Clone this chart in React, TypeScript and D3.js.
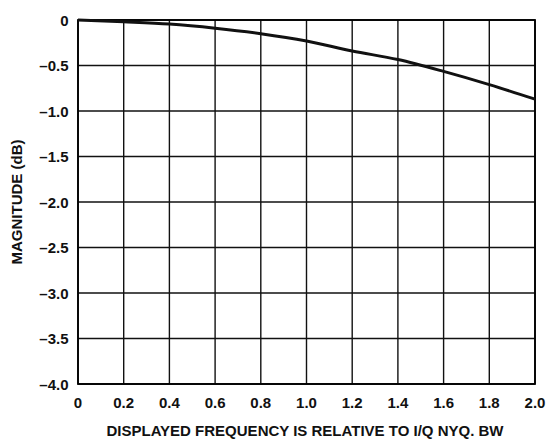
import React from "react";
import * as d3 from "d3";

const freq = [0, 0.2, 0.4, 0.6, 0.8, 1.0, 1.2, 1.4, 1.6, 1.8, 2.0];
const magnitude = [0, -0.02, -0.045, -0.09, -0.15, -0.23, -0.34, -0.435, -0.565, -0.71, -0.87];
const xTicks = [0, 0.2, 0.4, 0.6, 0.8, 1.0, 1.2, 1.4, 1.6, 1.8, 2.0];
const yTicks = [0, -0.5, -1.0, -1.5, -2.0, -2.5, -3.0, -3.5, -4.0];
const xTickLabels = ["0", "0.2", "0.4", "0.6", "0.8", "1.0", "1.2", "1.4", "1.6", "1.8", "2.0"];
const yTickLabels = ["0", "\u20130.5", "\u20131.0", "\u20131.5", "\u20132.0", "\u20132.5", "\u20133.0", "\u20133.5", "\u20134.0"];
const xTitle = "DISPLAYED FREQUENCY IS RELATIVE TO I/Q NYQ. BW";
const yTitle = "MAGNITUDE (dB)";

export default function App() {
  const W = 546, H = 440;
  const L = 78, R = 535, T = 20, B = 384;
  const x = d3.scaleLinear().domain([0, 2]).range([L, R]);
  const y = d3.scaleLinear().domain([-4, 0]).range([B, T]);
  const line = d3
    .line<number>()
    .x((_, i) => x(freq[i]))
    .y((d) => y(d))
    .curve(d3.curveMonotoneX);
  const font = "'Liberation Sans', Arial, sans-serif";
  return (
    <svg width={W} height={H} style={{ position: "absolute", left: 0, top: 0 }} fontFamily={font}>
      <rect width={W} height={H} fill="#fff" />
      {xTicks.map((t, i) => (
        <line key={"gx" + i} x1={x(t)} x2={x(t)} y1={T} y2={B} stroke="#111" strokeWidth={1.4} />
      ))}
      {yTicks.map((t, i) => (
        <line key={"gy" + i} x1={L} x2={R} y1={y(t)} y2={y(t)} stroke="#111" strokeWidth={1.4} />
      ))}
      <rect x={L} y={T} width={R - L} height={B - T} fill="none" stroke="#000" strokeWidth={1.8} />
      <path d={line(magnitude) || ""} fill="none" stroke="#111" strokeWidth={3} />
      {xTicks.map((t, i) => (
        <text key={"tx" + i} x={x(t)} y={407.5} textAnchor="middle" fontSize={15} fontWeight="bold" fill="#111">
          {xTickLabels[i]}
        </text>
      ))}
      {yTicks.map((t, i) => (
        <text key={"ty" + i} x={68.5} y={y(t) + 5.5} textAnchor="end" fontSize={15} fontWeight="bold" fill="#111">
          {yTickLabels[i]}
        </text>
      ))}
      <text x={305} y={435.5} textAnchor="middle" fontSize={15} fontWeight="bold" fill="#111">
        {xTitle}
      </text>
      <text transform={`translate(22.3, 202) rotate(-90)`} textAnchor="middle" fontSize={15} fontWeight="bold" fill="#111">
        {yTitle}
      </text>
    </svg>
  );
}
